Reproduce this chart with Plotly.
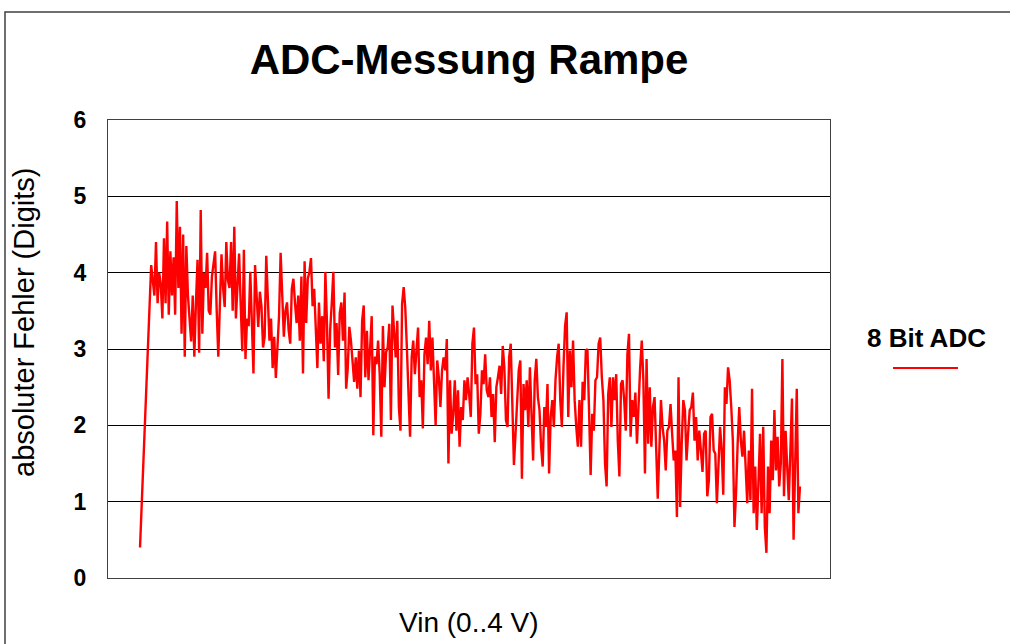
import numpy as np
import plotly.graph_objects as go

# ---- data (absolute error in digits) ----
ramp_rise = [0.40, 0.95, 1.35, 1.80, 2.50, 2.95, 3.60]

err_seg1 = [4.1, 3.9, 3.7, 4.4, 3.6, 4.0, 3.85, 3.4, 4.45, 3.6,
            4.67, 3.45, 4.28, 3.7, 4.2, 3.45, 4.94, 3.8, 4.6, 3.2,
            4.5, 2.9, 4.35, 3.7, 3.4, 3.1, 3.7, 2.9, 3.6, 4.17,
            2.95, 4.82, 3.2, 4.0, 3.8, 4.26, 3.5, 3.45, 3.95, 4.13,
            4.28, 3.5, 2.9, 3.6, 4.24, 3.8, 3.55, 4.4, 3.9, 3.8,
            4.4, 3.5, 4.6, 3.4, 3.8, 4.25, 3.6, 2.97, 4.3, 2.87,
            3.4, 3.3]

err_seg2 = [4.01, 3.34, 2.68, 4.10, 3.61, 3.29, 3.75, 3.56, 3.02, 3.16,
            4.22, 3.56, 3.11, 3.40, 2.75, 3.16, 2.62, 3.02, 3.43, 4.26,
            3.56, 3.16, 3.50, 3.61, 3.25, 3.07, 3.79, 3.92, 3.60, 3.34,
            3.70, 3.11, 3.95, 2.68, 4.15, 3.34, 3.92, 4.01, 4.19, 3.56,
            3.79, 3.30, 2.75, 3.61, 3.07, 3.43, 2.84, 4.01, 3.34, 2.35,
            3.25, 3.60, 4.01, 3.02, 3.34, 2.66, 3.47, 3.61, 3.11, 3.74,
            2.48, 2.75, 3.29, 3.11, 2.80, 2.57, 2.89, 2.48, 2.98]

err_seg3 = [2.37, 3.37, 3.57, 2.63, 3.24, 2.59, 3.11, 3.43, 1.87, 2.90,
            2.80, 3.11, 2.67, 1.85, 3.30, 2.50, 2.96, 3.02, 3.33, 2.07,
            3.57, 3.20, 2.89, 3.37, 2.24, 1.93, 3.59, 3.81, 3.54, 3.02,
            2.28, 1.85, 2.89, 3.11, 2.67, 2.93, 3.28, 2.37, 2.59, 1.96,
            2.93, 3.15, 2.80, 3.37, 2.72, 3.15, 2.59, 2.00, 2.85, 2.63,
            2.24, 2.72, 2.89, 2.72, 3.13, 1.50, 2.59, 1.89, 2.15, 2.59,
            1.93, 2.46, 1.72, 2.24, 2.07, 2.59, 2.33, 2.63, 2.40]

err_seg4 = [2.11, 3.07, 3.28, 2.54, 2.67, 1.89, 2.15, 2.72, 2.54, 2.93,
            2.46, 2.37, 2.63, 2.11, 2.41, 1.78, 2.50, 2.63, 2.78, 2.41,
            3.04, 2.76, 2.07, 1.98, 2.89, 3.07, 2.28, 1.48, 1.89, 2.41,
            2.72, 2.85, 1.30, 2.54, 2.20, 2.59, 1.98, 2.76, 2.11, 1.54,
            2.59, 2.87, 2.37, 2.20, 1.72, 1.46, 2.24, 1.98, 2.54, 1.37,
            2.11, 2.33, 1.98, 2.59, 2.89, 3.07, 2.33, 1.98, 2.76, 3.30,
            3.48, 2.11, 2.98, 2.50, 3.11, 2.33, 1.98, 1.72, 2.33]

err_seg5 = [1.72, 2.57, 2.33, 2.98, 3.00, 2.20, 1.35, 2.15, 1.93, 2.59,
            2.63, 3.07, 3.15, 2.63, 2.33, 1.50, 1.20, 2.41, 2.63, 1.98,
            2.63, 2.33, 2.67, 1.80, 1.33, 2.54, 2.59, 2.33, 1.93, 2.93,
            3.20, 1.85, 2.33, 2.11, 2.43, 1.76, 2.33, 2.76, 3.11, 2.59,
            1.37, 2.87, 1.76, 2.50, 1.72, 2.24, 2.37, 1.76, 1.04, 1.67,
            2.33, 1.98, 1.80, 1.41, 1.93, 1.98, 2.28, 1.89, 1.54, 1.67,
            0.80, 2.63, 0.93, 1.76, 2.33, 2.20, 1.54, 1.89, 2.20]

err_seg6 = [2.24, 2.43, 1.80, 2.11, 1.54, 1.93, 1.67, 1.39, 1.89, 1.93,
            1.07, 1.28, 2.11, 2.15, 1.67, 1.63, 0.98, 1.63, 1.98, 1.67,
            1.09, 2.50, 2.28, 2.76, 2.59, 2.24, 1.80, 0.67, 1.11, 1.76,
            2.24, 1.80, 1.59, 1.93, 1.37, 0.98, 1.67, 1.02, 2.48, 0.85,
            1.46, 0.63, 1.24, 1.89, 0.85, 1.98, 0.67, 0.33, 1.46, 0.85,
            1.80, 1.28, 2.20, 1.41, 1.85, 1.20, 1.50, 2.87, 1.07, 1.93,
            1.46, 1.02, 1.67, 2.35, 0.50, 1.67, 2.48, 0.85, 1.20]

y_ticks = [0, 1, 2, 3, 4, 5, 6]
title_text = "ADC-Messung Rampe"
y_title = "absoluter Fehler (Digits)"
x_title = "Vin (0..4 V)"
series_name = "8 Bit ADC"

errors = ramp_rise + err_seg1 + err_seg2 + err_seg3 + err_seg4 + err_seg5 + err_seg6
n = len(errors)
vin = np.arange(n) * 4.0 / (n - 1)

FONT = "Liberation Sans, Arial, Helvetica, sans-serif"

fig = go.Figure()
fig.add_trace(go.Scatter(
    x=vin, y=errors, mode="lines", name=series_name,
    line=dict(color="#ff0000", width=2.4), showlegend=False,
))

fig.update_layout(
    width=1010, height=644,
    margin=dict(l=108, r=180, t=120, b=66),
    paper_bgcolor="white", plot_bgcolor="white",
    font=dict(family=FONT, color="black"),
    title=dict(text=title_text, x=0.5, xref="paper", y=1 - 59 / 644, yref="container",
               yanchor="middle", xanchor="center",
               font=dict(family=FONT, size=42, color="black", weight="bold")),
    showlegend=False,
)

fig.update_xaxes(
    range=[-0.194, 4.182], showticklabels=False, showgrid=False, zeroline=False,
    showline=True, linecolor="#404040", linewidth=1, mirror=True, ticks="",
)
fig.update_yaxes(
    range=[0, 6], tickvals=y_ticks, ticktext=[str(v) for v in y_ticks],
    showgrid=True, gridcolor="#000000", gridwidth=1, zeroline=False,
    showline=True, linecolor="#404040", linewidth=1, mirror=True, ticks="",
    ticklabelstandoff=16,
    tickfont=dict(family=FONT, size=23, color="black", weight="bold"),
)

# axis titles
fig.add_annotation(text=y_title, xref="paper", yref="paper",
                   x=(24 - 108) / 722, y=(578 - 323) / 458, textangle=-90,
                   showarrow=False, xanchor="center", yanchor="middle",
                   font=dict(family=FONT, size=29, color="black"))
fig.add_annotation(text=x_title, xref="paper", yref="paper",
                   x=0.5, y=(578 - 622) / 458,
                   showarrow=False, xanchor="center", yanchor="middle",
                   font=dict(family=FONT, size=28, color="black"))

# legend (text + line sample)
fig.add_annotation(text=series_name, xref="paper", yref="paper",
                   x=(926 - 108) / 722, y=(578 - 338) / 458,
                   showarrow=False, xanchor="center", yanchor="middle",
                   font=dict(family=FONT, size=26, color="black", weight="bold"))
fig.add_shape(type="line", xref="paper", yref="paper",
              x0=(893 - 108) / 722, x1=(958 - 108) / 722,
              y0=(578 - 368) / 458, y1=(578 - 368) / 458,
              line=dict(color="#ff0000", width=2))

# outer chart frame
fig.add_shape(type="rect", xref="paper", yref="paper",
              x0=(5 - 108) / 722, x1=(1030 - 108) / 722,
              y0=(578 - 660) / 458, y1=(578 - 12) / 458,
              line=dict(color="#404040", width=1.5), fillcolor="rgba(0,0,0,0)",
              layer="below")

fig.write_html("out.html", config={"displayModeBar": False},
               post_script="document.body.style.margin='0px';document.body.style.padding='0px';")
